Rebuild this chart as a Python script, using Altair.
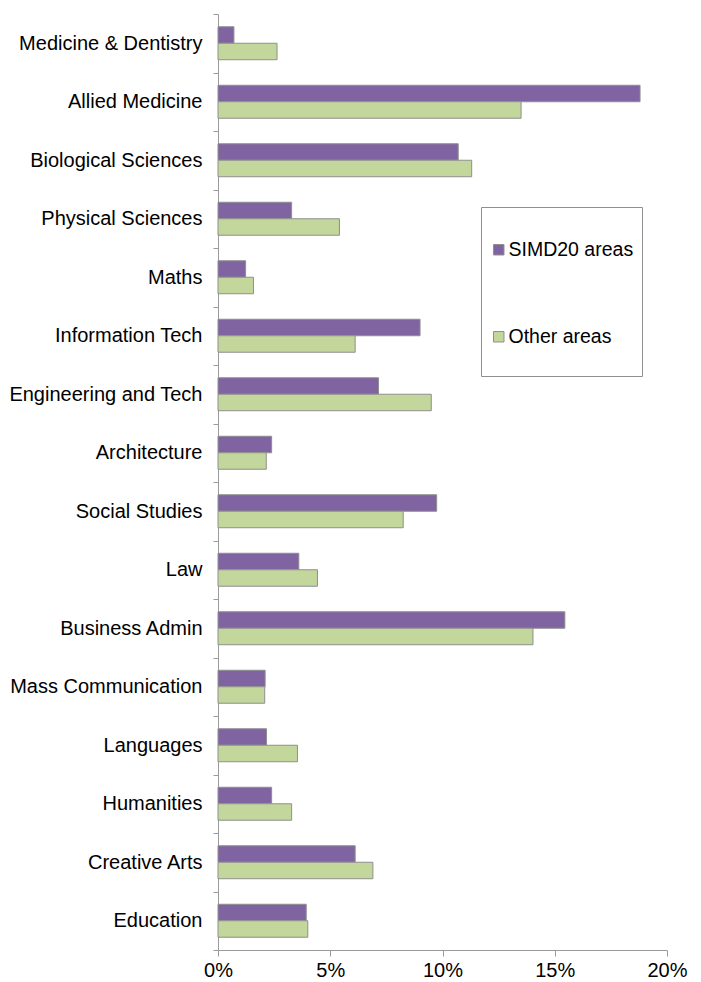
import altair as alt
import pandas as pd

categories = ["Medicine & Dentistry", "Allied Medicine", "Biological Sciences",
              "Physical Sciences", "Maths", "Information Tech", "Engineering and Tech",
              "Architecture", "Social Studies", "Law", "Business Admin",
              "Mass Communication", "Languages", "Humanities", "Creative Arts", "Education"]
series = ["SIMD20 areas", "Other areas"]
simd20 = [0.71, 18.8, 10.7, 3.28, 1.23, 9.0, 7.15, 2.39, 9.74, 3.6, 15.45, 2.1, 2.16, 2.39, 6.11, 3.93]
other = [2.63, 13.5, 11.3, 5.41, 1.58, 6.11, 9.5, 2.15, 8.25, 4.43, 14.03, 2.08, 3.54, 3.28, 6.9, 4.0]
x_ticks = [0, 0.05, 0.10, 0.15, 0.20]
colors = ["#8064A2", "#C3D69B"]

rows = []
for c, a, b in zip(categories, simd20, other):
    rows.append({"subject": c, "series": series[0], "value": a / 100})
    rows.append({"subject": c, "series": series[1], "value": b / 100})
df = pd.DataFrame(rows)

font = "Liberation Sans"

chart = alt.Chart(df).mark_bar(stroke="#8f8f8f", strokeWidth=1).encode(
    x=alt.X("value:Q",
            scale=alt.Scale(domain=[0, 0.2], nice=False),
            axis=alt.Axis(values=x_ticks, format=".0%", title=None, grid=False,
                          domainColor="#9a9a9a", tickColor="#9a9a9a", tickSize=6,
                          labelFont=font, labelFontSize=20, labelColor="#000000",
                          labelPadding=4, labelFlush=False)),
    y=alt.Y("subject:N", sort=categories,
            scale=alt.Scale(paddingInner=0, paddingOuter=0),
            axis=alt.Axis(title=None, tickBand="extent", domainColor="#9a9a9a",
                          tickColor="#9a9a9a", tickSize=5, labelFont=font,
                          labelFontSize=20, labelColor="#000000", labelPadding=11,
                          labelLimit=300)),
    yOffset=alt.YOffset("series:N", sort=series,
                        scale=alt.Scale(paddingInner=0, paddingOuter=0.773)),
    color=alt.Color("series:N", sort=series,
                    scale=alt.Scale(domain=series, range=colors),
                    legend=alt.Legend(title=" ", titleFontSize=12, titlePadding=13,
                                      orient="none", legendX=263, legendY=193,
                                      strokeColor="#8f8f8f", fillColor="#ffffff",
                                      padding=8, rowPadding=45,
                                      symbolType="square", symbolSize=110,
                                      symbolStrokeColor="#8f8f8f", symbolStrokeWidth=1,
                                      labelFont=font, labelFontSize=19.5, labelColor="#000000",
                                      labelExpr="[datum.label, '']",
                                      labelOffset=0, labelLimit=300)),
).properties(
    width=449, height=936,
    autosize=alt.AutoSizeParams(type="none"),
    padding={"left": 218, "top": 14, "right": 34, "bottom": 32},
).configure_view(stroke=None)

chart.save("out.html", embed_options={"renderer": "svg", "actions": False})
